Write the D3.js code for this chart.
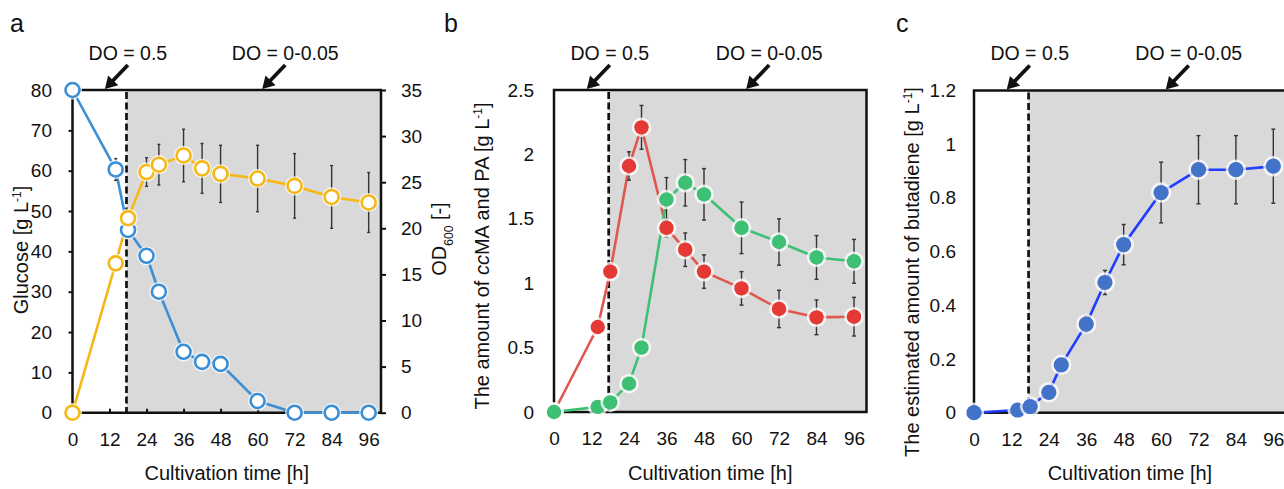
<!DOCTYPE html>
<html>
<head>
<meta charset="utf-8">
<script src="https://cdn.jsdelivr.net/npm/d3@7/dist/d3.min.js"></script>
<style>
  html, body { margin: 0; padding: 0; background: #fff; }
  svg { display: block; font-family: "Liberation Sans", Arial, Helvetica, sans-serif; }
</style>
</head>
<body>
<svg id="chart" width="1284" height="489"></svg>
<script>
// ---------------- DATA ----------------
const hours = [0, 14, 18, 24, 28, 36, 42, 48, 60, 72, 84, 96];
const glucose = [80, 60.3, 45.3, 38.9, 30, 15.1, 12.6, 12.1, 2.9, 0, 0, 0];
const glucoseErr = [0, 2.7, 1, 1, 1, 1, 1, 1, 1, 0, 0, 0];
const od600 = [0, 16.2, 21.1, 26.1, 26.9, 27.9, 26.5, 25.9, 25.4, 24.6, 23.4, 22.8];
const od600Err = [0, 0.3, 0.3, 1.55, 2.2, 2.85, 2.7, 3.1, 3.6, 3.5, 3.4, 3.25];
const ccma = [0, 0.66, 1.09, 1.91, 2.21, 1.43, 1.26, 1.09, 0.96, 0.80, 0.735, 0.74];
const ccmaErr = [0, 0.02, 0.03, 0.11, 0.17, 0.07, 0.13, 0.13, 0.13, 0.145, 0.135, 0.15];
const pa = [0, 0.04, 0.075, 0.22, 0.5, 1.65, 1.78, 1.69, 1.43, 1.32, 1.20, 1.17];
const paErr = [0, 0.01, 0.01, 0.02, 0.03, 0.17, 0.18, 0.2, 0.2, 0.18, 0.17, 0.17];
const butadiene = [0, 0.01, 0.023, 0.076, 0.178, 0.33, 0.485, 0.626, 0.82, 0.905, 0.905, 0.918];
const butadieneErr = [0, 0, 0, 0.005, 0.008, 0.03, 0.045, 0.075, 0.113, 0.127, 0.127, 0.138];

const xTicks = [0, 12, 24, 36, 48, 60, 72, 84, 96];
const glucoseTicks = [0, 10, 20, 30, 40, 50, 60, 70, 80];
const odTicks = [0, 5, 10, 15, 20, 25, 30, 35];
const ccmaTicks = [0, 0.5, 1, 1.5, 2, 2.5];
const butTicks = [0, 0.2, 0.4, 0.6, 0.8, 1, 1.2];

const switchHour = 17.5;           // DO switch (dashed line)
const arrowHours = [10.5, 61.5];   // arrow tips on top border
const arrowLabels = ["DO = 0.5", "DO = 0-0.05"];
const panelLetters = ["a", "b", "c"];

// ---------------- STYLE ----------------
const C = {
  blue: "#3a8fd6", yellow: "#f6b817",
  red: "#e53935", redLine: "#e0574f",
  green: "#3dbf74", greenLine: "#3dbf74",
  bdMarker: "#4273c8", bdLine: "#1f3cff",
  gray: "#d9d9d9", err: "#333"
};
const TICK_FS = 19, TITLE_FS = 20, DO_FS = 19.5;

const svg = d3.select("#chart");

function panelBase(p) {
  const g = svg.append("g");
  g.append("rect")
    .attr("x", p.x(switchHour)).attr("y", p.y.range()[1])
    .attr("width", p.x(100) - p.x(switchHour))
    .attr("height", p.y.range()[0] - p.y.range()[1])
    .attr("fill", C.gray);
  g.append("line")
    .attr("x1", p.x(switchHour)).attr("x2", p.x(switchHour))
    .attr("y1", p.y.range()[1] + 2).attr("y2", p.y.range()[0])
    .attr("stroke", "#111").attr("stroke-width", 2.7)
    .attr("stroke-dasharray", "7,3.5");
  return g;
}

function frame(g, p, full) {
  const x0 = p.x(0), x1 = p.x(100), y0 = p.y.range()[0], y1 = p.y.range()[1];
  if (full) {
    g.append("rect").attr("x", x0).attr("y", y1).attr("width", x1 - x0).attr("height", y0 - y1)
      .attr("fill", "none").attr("stroke", "#111").attr("stroke-width", 2.5);
  } else {
    const path = `M${x0},${y0}L${x0},${y1}L${x1},${y1}L${x1},${y0}Z`;
    g.append("path").attr("d", path).attr("fill", "none").attr("stroke", "#111").attr("stroke-width", 2.5);
  }
}

function annotations(g, p) {
  const top = p.y.range()[1];
  arrowHours.forEach((h, i) => {
    const tx = p.x(h), ty = top - 1;
    const sx = tx + 23, sy = top - 25;
    const dx = tx - sx, dy = ty - sy, len = Math.hypot(dx, dy);
    const ux = dx / len, uy = dy / len, nx = -uy, ny = ux;
    const hl = 12, hw = 7;
    const bx = tx - ux * hl, by = ty - uy * hl;
    g.append("line").attr("x1", sx).attr("y1", sy).attr("x2", bx + ux * 2).attr("y2", by + uy * 2)
      .attr("stroke", "#111").attr("stroke-width", 3.8);
    g.append("path")
      .attr("d", `M${tx},${ty}L${bx + nx * hw},${by + ny * hw}L${bx - nx * hw},${by - ny * hw}Z`)
      .attr("fill", "#111");
    g.append("text").attr("x", sx).attr("y", 60).attr("text-anchor", "middle")
      .attr("font-size", DO_FS).attr("fill", "#111").text(arrowLabels[i]);
  });
}

function errorBars(g, p, yScale, vals, errs, cap) {
  hours.forEach((h, i) => {
    const e = errs[i];
    if (!e) return;
    const cx = p.x(h), ya = yScale(vals[i] + e), yb = yScale(Math.max(vals[i] - e, yScale.domain()[0]));
    g.append("line").attr("x1", cx).attr("x2", cx).attr("y1", ya).attr("y2", yb)
      .attr("stroke", C.err).attr("stroke-width", 1.4);
    if (cap) {
      [ya, yb].forEach(yy => g.append("line").attr("x1", cx - cap).attr("x2", cx + cap)
        .attr("y1", yy).attr("y2", yy).attr("stroke", C.err).attr("stroke-width", 1.4));
    }
  });
}

function series(g, p, yScale, vals, lineColor) {
  const line = d3.line().x((d, i) => p.x(hours[i])).y(d => yScale(d));
  g.append("path").datum(vals).attr("d", line).attr("fill", "none")
    .attr("stroke", lineColor).attr("stroke-width", 2.6).attr("stroke-linejoin", "round");
}
function markers(g, p, yScale, vals, markerColor, hollow, r) {
  const mg = g.append("g");
  vals.forEach((v, i) => {
    const cx = p.x(hours[i]), cy = yScale(v);
    mg.append("circle").attr("cx", cx).attr("cy", cy).attr("r", r + 2.6)
      .attr("fill", "#fff").attr("opacity", 0.75);
    if (hollow) {
      mg.append("circle").attr("cx", cx).attr("cy", cy).attr("r", r)
        .attr("fill", "#fff").attr("stroke", markerColor).attr("stroke-width", 2.6);
    } else {
      mg.append("circle").attr("cx", cx).attr("cy", cy).attr("r", r)
        .attr("fill", markerColor);
    }
  });
}

function xAxis(g, p, inTicks) {
  const ax = d3.axisBottom(p.x).tickValues(xTicks).tickFormat(d3.format("d"))
    .tickSize(inTicks ? -4 : 0).tickPadding(19.5);
  const a = g.append("g").attr("transform", `translate(0,${p.y.range()[0]})`).call(ax);
  a.select(".domain").remove();
  a.selectAll("line").attr("stroke", "#111").attr("stroke-width", 2);
  a.selectAll("text").attr("font-size", TICK_FS).attr("fill", "#111");
  a.attr("font-family", null);
}

function yLabel(g, x, y, parts) {
  const t = g.append("text").attr("transform", `translate(${x},${y}) rotate(-90)`)
    .attr("text-anchor", "middle").attr("font-size", TITLE_FS).attr("fill", "#111");
  parts.forEach(pt => {
    const s = t.append("tspan").text(pt.t);
    if (pt.sup) s.attr("baseline-shift", "super").attr("font-size", TITLE_FS * 0.6);
    if (pt.sub) s.attr("baseline-shift", "sub").attr("font-size", TITLE_FS * 0.6);
    if (pt.it) s.attr("font-style", "italic");
  });
}

function xTitle(g, p) {
  g.append("text").attr("x", (p.x(0) + p.x(100)) / 2).attr("y", 480)
    .attr("text-anchor", "middle").attr("font-size", TITLE_FS).attr("fill", "#111")
    .text("Cultivation time [h]");
}

function letter(g, x, t) {
  g.append("text").attr("x", x).attr("y", 32).attr("font-size", 25).attr("fill", "#111").text(t);
}

// ---------------- PANEL A ----------------
{
  const p = {
    x: d3.scaleLinear().domain([0, 100]).range([72.5, 381]),
    y: d3.scaleLinear().domain([0, 80]).range([412.7, 90])
  };
  const yR = d3.scaleLinear().domain([0, 35]).range([412.7, 90]);
  const g = panelBase(p);
  frame(g, p, false);
  const la = g.append("g").attr("transform", `translate(${p.x(0)},0)`)
    .call(d3.axisLeft(p.y).tickValues(glucoseTicks).tickSize(4).tickPadding(16.5));
  la.select(".domain").remove();
  la.selectAll("line").attr("stroke", "#111").attr("stroke-width", 2);
  la.selectAll("text").attr("font-size", TICK_FS).attr("fill", "#111");
  la.attr("font-family", null);
  const ra = g.append("g").attr("transform", `translate(${p.x(100) - 1},0)`)
    .call(d3.axisRight(yR).tickValues(odTicks).tickSize(6).tickPadding(15));
  ra.select(".domain").remove();
  ra.selectAll("line").attr("stroke", "#111").attr("stroke-width", 2);
  ra.selectAll("text").attr("font-size", TICK_FS).attr("fill", "#111");
  ra.attr("font-family", null);
  xAxis(g, p, true);

  series(g, p, p.y, glucose, C.blue);
  series(g, p, yR, od600, C.yellow);
  errorBars(g, p, p.y, glucose, glucoseErr, 1.5);
  errorBars(g, p, yR, od600, od600Err, 1.5);
  markers(g, p, p.y, glucose, C.blue, true, 7);
  markers(g, p, yR, od600, C.yellow, true, 7);

  yLabel(g, 28, 250, [{t: "Glucose [g L"}, {t: "-1", sup: true}, {t: "]"}]);
  yLabel(g, 446, 239, [{t: "OD"}, {t: "600", sub: true}, {t: " [-]"}]);
  xTitle(g, p);
  annotations(g, p);
  letter(g, 10, panelLetters[0]);
}

// ---------------- PANEL B ----------------
{
  const p = {
    x: d3.scaleLinear().domain([0, 100]).range([554, 866.5]),
    y: d3.scaleLinear().domain([0, 2.5]).range([412, 90])
  };
  const g = panelBase(p);
  frame(g, p, true);
  const la = g.append("g").attr("transform", `translate(${p.x(0)},0)`)
    .call(d3.axisLeft(p.y).tickValues(ccmaTicks).tickFormat(d3.format("~g")).tickSize(0).tickPadding(20));
  la.select(".domain").remove();
  la.selectAll("text").attr("font-size", TICK_FS).attr("fill", "#111");
  la.attr("font-family", null);
  xAxis(g, p, false);

  series(g, p, p.y, ccma, C.redLine);
  series(g, p, p.y, pa, C.greenLine);
  errorBars(g, p, p.y, ccma, ccmaErr, 2);
  errorBars(g, p, p.y, pa, paErr, 2);
  markers(g, p, p.y, ccma, C.red, false, 7.2);
  markers(g, p, p.y, pa, C.green, false, 7.2);

  yLabel(g, 489, 256, [{t: "The amount of "}, {t: "cc", it: true}, {t: "MA and PA [g L"}, {t: "-1", sup: true}, {t: "]"}]);
  xTitle(g, p);
  annotations(g, p);
  letter(g, 444, panelLetters[1]);
}

// ---------------- PANEL C ----------------
{
  const p = {
    x: d3.scaleLinear().domain([0, 100]).range([974, 1285.8]),
    y: d3.scaleLinear().domain([0, 1.2]).range([412.7, 90.5])
  };
  const g = panelBase(p);
  frame(g, p, true);
  const la = g.append("g").attr("transform", `translate(${p.x(0)},0)`)
    .call(d3.axisLeft(p.y).tickValues(butTicks).tickFormat(d3.format("~g")).tickSize(0).tickPadding(18));
  la.select(".domain").remove();
  la.selectAll("text").attr("font-size", TICK_FS).attr("fill", "#111");
  la.attr("font-family", null);
  xAxis(g, p, false);

  series(g, p, p.y, butadiene, C.bdLine);
  errorBars(g, p, p.y, butadiene, butadieneErr, 2);
  markers(g, p, p.y, butadiene, C.bdMarker, false, 7.6);

  yLabel(g, 919, 272, [{t: "The estimated amount of butadiene [g L"}, {t: "-1", sup: true}, {t: "]"}]);
  xTitle(g, p);
  annotations(g, p);
  letter(g, 896, panelLetters[2]);
}
</script>
</body>
</html>
